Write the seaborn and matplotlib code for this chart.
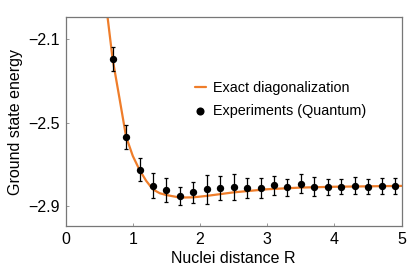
import numpy as np
import matplotlib
matplotlib.use("Agg")
import matplotlib.pyplot as plt
import seaborn as sns

# exact diagonalization curve
r_exact = [0.625, 0.7, 0.8, 0.9, 1.0, 1.1, 1.2, 1.3, 1.4, 1.5, 1.7, 1.9, 2.1,
           2.5, 3.0, 3.5, 4.0, 5.0]
e_exact = [-1.994, -2.195, -2.380, -2.568, -2.661, -2.728, -2.781, -2.822,
           -2.840, -2.849, -2.861, -2.860, -2.853, -2.836, -2.821, -2.813,
           -2.809, -2.805]

# experimental points
r_exp = [0.7, 0.9, 1.1, 1.3, 1.5, 1.7, 1.9, 2.1, 2.3, 2.5, 2.7, 2.9, 3.1, 3.3,
         3.5, 3.7, 3.9, 4.1, 4.3, 4.5, 4.7, 4.9]
e_exp = [-2.195, -2.568, -2.727, -2.804, -2.825, -2.852, -2.836, -2.821,
         -2.816, -2.812, -2.815, -2.813, -2.803, -2.812, -2.795, -2.808,
         -2.810, -2.808, -2.804, -2.808, -2.807, -2.806]
e_err = [0.057, 0.058, 0.056, 0.060, 0.056, 0.044, 0.052, 0.070, 0.058, 0.063,
         0.046, 0.048, 0.047, 0.042, 0.046, 0.044, 0.040, 0.038, 0.040, 0.038,
         0.038, 0.038]

sns.set_style("ticks")
plt.rcParams['font.family'] = ['Liberation Sans', 'DejaVu Sans']
plt.rcParams['text.color'] = 'black'
plt.rcParams['axes.labelcolor'] = 'black'
plt.rcParams['xtick.labelcolor'] = 'black'
plt.rcParams['ytick.labelcolor'] = 'black'

fig = plt.figure(figsize=(4.15, 2.77), dpi=100)
ax = fig.add_axes([0.158, 0.184, 0.81, 0.7535])

orange = '#ef7d2a'
sns.lineplot(x=r_exact, y=e_exact, ax=ax, color=orange, linewidth=1.6,
             label='Exact diagonalization', zorder=2)
ax.errorbar(r_exp, e_exp, yerr=e_err, fmt='none', ecolor='black',
            elinewidth=0.9, capsize=1.6, capthick=0.9, zorder=3)
sns.scatterplot(x=r_exp, y=e_exp, ax=ax, color='black', s=28,
                edgecolor='black', linewidth=0, label='Experiments (Quantum)',
                zorder=4)

ax.set_xlim(0, 5)
ax.set_ylim(-2.998, -1.994)
ax.set_xticks([0, 1, 2, 3, 4, 5])
ax.set_yticks([-2.9, -2.5, -2.1])
ax.set_yticklabels(['\u22122.9', '\u22122.5', '\u22122.1'])
ax.tick_params(direction='in', length=2.5, width=0.6, color='#888888',
               labelsize=11.5, pad=4)
for sp in ax.spines.values():
    sp.set_color('#777777')
    sp.set_linewidth(0.9)

ax.set_xlabel('Nuclei distance R', fontsize=11.5, labelpad=3)
ax.set_ylabel('Ground state energy', fontsize=11.5, labelpad=4)

ax.legend(loc='center left', bbox_to_anchor=(0.385, 0.605), frameon=False,
          fontsize=10.4, handlelength=0.75, handletextpad=0.5, borderpad=0,
          borderaxespad=0, labelspacing=0.6, markerscale=1.1)

fig.savefig('out.png', dpi=100)
